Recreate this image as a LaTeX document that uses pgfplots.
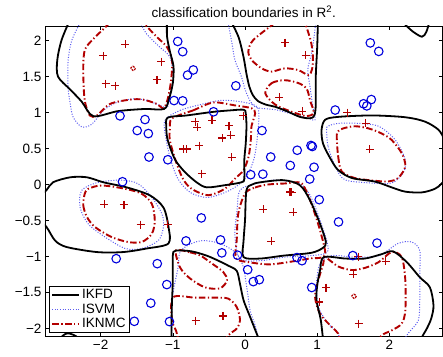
\documentclass[border=0pt]{standalone}
\usepackage{fontspec}
\setmainfont{Liberation Sans}
\usepackage{pgfplots}
\pgfplotsset{compat=1.18}
\definecolor{ikred}{RGB}{178,0,0}
\definecolor{ikblue}{RGB}{90,90,240}
\definecolor{obl}{RGB}{0,0,220}
\begin{document}
\begin{tikzpicture}
\begin{axis}[
  width=397.5pt, height=310.7pt, scale only axis,
  xmin=-2.77, xmax=2.735, ymin=-2.117, ymax=2.204,
  xtick={-2,-1,0,1,2}, xticklabels={−2,−1,0,1,2},
  ytick={-2,-1.5,-1,-0.5,0,0.5,1,1.5,2},
  yticklabels={−2,−1.5,−1,−0.5,0,0.5,1,1.5,2},
  tick label style={font=\fontsize{13.5}{16}\selectfont},
  tick align=inside, major tick length=4pt, tick style={black, line width=0.6pt},
  axis line style={line width=0.8pt},
  title={classification boundaries in R\textsuperscript{2}.},
  title style={font=\fontsize{13.5}{16}\selectfont, yshift=-1pt},
  legend style={at={(0.011,0.012)}, anchor=south west, font=\fontsize{13.5}{16}\selectfont,
    draw=black, line width=0.8pt, inner sep=1.5pt, row sep=-0.5pt, cells={anchor=west}},
  legend image code/.code={\draw[#1] (0pt,0pt) -- (27pt,0pt);},
]
\addlegendimage{black, line width=1.8pt}
\addlegendentry{IKFD}
\addlegendimage{ikblue, line width=1pt, dash pattern=on 1pt off 1.6pt}
\addlegendentry{ISVM}
\addlegendimage{ikred, line width=1.9pt, dash pattern=on 6.5pt off 2.5pt on 1.3pt off 2.5pt}
\addlegendentry{IKNMC}

\pgfplotsset{
  kfd/.style={black, line width=1.8pt, smooth, forget plot, no marks},
  svm/.style={ikblue, line width=1pt, dash pattern=on 1pt off 1.6pt, smooth, forget plot, no marks},
  nmc/.style={ikred, line width=1.9pt, dash pattern=on 6.5pt off 2.5pt on 1.3pt off 2.5pt, smooth, forget plot, no marks},
}

% ---------------- ISVM ----------------
\addplot[svm] coordinates {(-2.285,2.25) (-2.40,2.0) (-2.45,1.72) (-2.45,1.35) (-2.42,1.12) (-2.38,0.935) (-2.26,0.80) (-2.12,0.84) (-1.96,1.03) (-1.78,1.14) (-1.55,1.19) (-1.36,1.17) (-1.18,1.10) (-1.08,1.07) (-1.04,1.21) (-0.99,1.49) (-1.04,1.77) (-1.18,1.91) (-1.36,2.09) (-1.45,2.25)};
\addplot[svm] coordinates {(-0.235,2.25) (-0.18,1.96) (-0.14,1.73) (-0.05,1.50) (0.02,1.27) (0.14,1.08) (0.42,1.04) (0.69,0.97) (0.88,0.92) (0.97,0.90) (0.94,1.08) (0.90,1.36) (0.87,1.60) (0.93,1.86) (0.98,2.25)};
\addplot[svm, smooth cycle] coordinates {(-1.11,0.89) (-0.90,1.03) (-0.62,1.11) (-0.32,1.17) (0.0,1.14) (0.18,1.06) (0.18,0.75) (0.125,0.36) (0.0,0.08) (-0.21,-0.08) (-0.51,-0.18) (-0.76,-0.11) (-0.93,0.08) (-1.025,0.33) (-1.09,0.61)};
\addplot[svm, smooth cycle] coordinates {(1.13,0.76) (1.15,0.53) (1.25,0.25) (1.385,0.065) (1.755,0.02) (2.03,0.02) (2.19,0.16) (2.22,0.34) (2.08,0.62) (1.85,0.81) (1.57,0.85) (1.29,0.85) (1.15,0.81)};
\addplot[svm, smooth cycle] coordinates {(-2.26,-0.08) (-2.285,-0.315) (-2.17,-0.55) (-1.94,-0.73) (-1.66,-0.89) (-1.43,-0.89) (-1.20,-0.78) (-1.13,-0.59) (-1.15,-0.41) (-1.29,-0.18) (-1.48,0.01) (-1.71,0.06) (-2.03,0.03)};
\addplot[svm] coordinates {(-1.01,-2.25) (-1.01,-1.61) (-0.93,-1.17) (-0.90,-0.94) (-0.76,-0.83) (-0.58,-0.78) (-0.35,-0.82) (-0.14,-0.94) (-0.03,-1.125) (0.03,-1.47) (0.07,-1.75) (0.14,-1.96) (0.21,-2.25)};
\addplot[svm, smooth cycle] coordinates {(-0.07,-0.08) (0.14,0.01) (0.42,0.06) (0.76,0.01) (0.90,-0.15) (1.04,-0.5) (1.15,-0.92) (0.90,-0.99) (0.55,-1.01) (0.21,-1.06) (-0.07,-1.03) (-0.14,-0.71) (-0.11,-0.36)};
\addplot[svm] coordinates {(1.316,-2.25) (1.29,-2.07) (1.15,-1.935) (1.015,-1.70) (0.99,-1.38) (1.04,-1.10) (1.20,-0.99) (1.52,-1.01) (1.85,-0.99) (2.12,-0.82) (2.31,-0.80) (2.42,-0.92) (2.42,-1.24) (2.42,-1.61) (2.40,-1.89) (2.26,-2.07) (2.15,-2.25)};

% ---------------- IKNMC ----------------
\addplot[nmc] coordinates {(-1.87,2.25) (-2.17,1.95) (-2.23,1.815) (-2.24,1.54) (-2.22,1.17) (-2.15,0.96) (-2.05,0.96) (-1.87,1.12) (-1.59,1.18) (-1.41,1.18) (-1.22,1.12) (-1.13,1.06) (-1.07,1.19) (-1.025,1.44) (-1.01,1.72) (-1.08,1.91) (-1.22,2.05) (-1.41,2.25)};
\addplot[nmc] coordinates {(0.42,2.25) (0.115,2.01) (0.046,1.85) (0.093,1.73) (0.23,1.615) (0.37,1.57) (0.55,1.615) (0.74,1.59) (0.88,1.52) (0.93,1.61) (0.94,1.79) (0.91,2.0) (0.83,2.25)};
\addplot[nmc, smooth cycle] coordinates {(0.28,1.27) (0.37,1.41) (0.55,1.45) (0.74,1.41) (0.855,1.33) (0.90,1.17) (0.95,1.0) (0.855,0.95) (0.65,1.01) (0.42,1.11)};
\addplot[nmc, smooth cycle] coordinates {(-1.01,0.92) (-0.72,1.03) (-0.44,1.14) (-0.14,1.10) (0.09,1.06) (0.14,0.99) (0.09,0.81) (0.08,0.62) (0.05,0.39) (-0.02,0.20) (-0.14,0.08) (-0.28,-0.06) (-0.51,-0.15) (-0.74,-0.06) (-0.86,0.08) (-0.96,0.33) (-1.04,0.61) (-1.04,0.78)};
\addplot[nmc, smooth cycle] coordinates {(1.27,0.67) (1.29,0.39) (1.34,0.18) (1.52,0.09) (1.755,0.056) (1.985,0.042) (2.12,0.09) (2.22,0.25) (2.17,0.435) (2.03,0.62) (1.89,0.71) (1.71,0.78) (1.52,0.81) (1.36,0.78) (1.29,0.74)};
\addplot[nmc, smooth cycle] coordinates {(-2.22,-0.13) (-2.24,-0.29) (-2.19,-0.45) (-2.08,-0.59) (-1.85,-0.73) (-1.62,-0.80) (-1.43,-0.80) (-1.29,-0.685) (-1.25,-0.50) (-1.29,-0.27) (-1.43,-0.13) (-1.66,-0.06) (-1.985,-0.014) (-2.17,-0.06)};
\addplot[nmc, smooth cycle] coordinates {(-0.956,-0.917) (-0.762,-0.944) (-0.623,-0.986) (-0.461,-1.097) (-0.301,-1.218) (-0.249,-1.333) (-0.346,-1.444) (-0.554,-1.431) (-0.762,-1.306) (-0.90,-1.153)};
\addplot[nmc] coordinates {(-0.90,-2.25) (-0.956,-2.03) (-1.011,-1.889) (-0.997,-1.569) (-0.693,-1.574) (-0.416,-1.574) (-0.231,-1.588) (-0.115,-1.704) (-0.069,-1.889) (-0.115,-2.004) (-0.231,-2.097) (-0.32,-2.25)};
\addplot[nmc, smooth cycle] coordinates {(0.0,-0.125) (0.139,-0.042) (0.323,0.0) (0.554,0.014) (0.762,0.028) (0.845,-0.083) (0.928,-0.292) (1.039,-0.639) (1.108,-0.986) (0.90,-1.028) (0.665,-1.069) (0.346,-1.111) (0.069,-1.083) (-0.125,-1.028) (-0.115,-0.778) (-0.093,-0.403)};
\addplot[nmc] coordinates {(1.33,-2.25) (1.29,-2.074) (1.20,-1.98) (1.04,-1.80) (0.97,-1.565) (1.015,-1.333) (1.084,-1.10) (1.108,-1.01) (1.29,-1.14) (1.48,-1.19) (1.66,-1.16) (1.85,-1.08) (2.03,-0.94) (2.17,-1.01) (2.22,-1.33) (2.22,-1.75) (2.17,-1.935) (2.03,-2.03) (1.89,-2.10) (1.80,-2.25)};
\addplot[nmc, line width=1.2pt, dash pattern=on 2pt off 1pt, smooth cycle] coordinates {(-1.58,1.62) (-1.55,1.645) (-1.52,1.61) (-1.55,1.585)};
\addplot[nmc, line width=1.2pt, dash pattern=on 2pt off 1pt, smooth cycle] coordinates {(1.48,-1.55) (1.51,-1.525) (1.54,-1.556) (1.51,-1.585)};

% ---------------- IKFD ----------------
\addplot[kfd] coordinates {(-2.42,2.30) (-2.54,2.01) (-2.60,1.73) (-2.59,1.50) (-2.42,1.32) (-2.26,1.15) (-2.10,0.95) (-1.76,1.02) (-1.39,1.05) (-1.12,1.05) (-1.05,1.20) (-1.00,1.41) (-0.99,1.64) (-1.04,1.85) (-1.08,2.06) (-1.08,2.30)};
\addplot[kfd] coordinates {(-0.21,2.30) (-0.09,2.05) (-0.02,1.77) (0.02,1.54) (0.06,1.36) (0.11,1.24) (0.18,1.16) (0.29,1.11) (0.42,1.08) (0.60,1.01) (0.76,0.94) (0.90,0.92) (0.96,0.96) (0.98,1.11) (0.98,1.50) (1.00,1.92) (1.01,2.30)};
\addplot[kfd] coordinates {(2.19,2.25) (2.32,2.13) (2.45,2.055) (2.51,2.12) (2.55,2.25)};
\addplot[kfd, smooth cycle] coordinates {(-1.07,0.93) (-0.81,0.96) (-0.44,1.01) (-0.21,1.03) (-0.02,1.04) (0.01,0.99) (0.02,0.81) (0.01,0.57) (-0.01,0.34) (-0.01,0.08) (-0.05,0.03) (-0.28,-0.01) (-0.53,-0.04) (-0.67,0.03) (-0.83,0.17) (-0.96,0.33) (-1.04,0.52) (-1.08,0.66) (-1.09,0.80)};
\addplot[kfd] coordinates {(2.85,0.45) (2.77,0.61) (2.68,0.76) (2.49,0.875) (2.22,0.935) (1.76,0.96) (1.29,0.94) (1.11,0.90) (1.06,0.76) (1.08,0.57) (1.18,0.365) (1.29,0.20) (1.48,0.09) (1.80,0.04) (2.03,-0.04) (2.22,-0.10) (2.45,-0.11) (2.63,-0.06) (2.72,0.01) (2.85,0.15)};
\addplot[kfd] coordinates {(-2.90,-0.20) (-2.75,-0.08) (-2.66,0.03) (-2.42,0.10) (-2.19,0.10) (-1.96,0.03) (-1.64,-0.04) (-1.32,-0.15) (-1.13,-0.32) (-1.06,-0.59) (-1.06,-0.82) (-1.36,-0.89) (-1.69,-0.94) (-2.05,-0.94) (-2.47,-0.87) (-2.63,-0.78) (-2.75,-0.59) (-2.90,-0.43)};
\addplot[kfd] coordinates {(-1.02,-2.25) (-1.015,-1.75) (-1.00,-1.33) (-1.00,-0.99) (-0.96,-0.92) (-0.74,-0.93) (-0.53,-0.99) (-0.37,-1.06) (-0.23,-1.13) (-0.115,-1.20) (-0.07,-1.38) (-0.02,-1.61) (0.07,-1.84) (0.18,-2.12) (0.24,-2.25)};
\addplot[kfd, smooth cycle] coordinates {(0.02,-0.08) (0.10,0.0) (0.21,0.03) (0.53,0.06) (0.76,-0.01) (0.90,-0.22) (1.04,-0.55) (1.12,-0.80) (1.08,-0.88) (0.92,-0.95) (0.53,-0.99) (0.21,-1.03) (-0.02,-1.01) (-0.02,-0.78) (0.00,-0.50)};
\addplot[kfd] coordinates {(1.09,-2.25) (1.05,-1.89) (0.99,-1.61) (1.00,-1.40) (1.04,-1.19) (1.09,-1.01) (1.39,-1.03) (1.66,-1.03) (1.89,-0.97) (2.05,-0.93) (2.24,-1.08) (2.42,-1.29) (2.56,-1.43) (2.61,-1.68) (2.58,-1.86) (2.52,-2.00) (2.45,-2.125) (2.41,-2.25)};
\addplot[kfd] coordinates {(-2.61,-2.20) (-2.52,-2.10) (-2.45,-2.07) (-2.34,-2.11) (-2.25,-2.20)};

% ---------------- data points ----------------
\addplot[only marks, mark=+, mark size=4pt, color=ikred, mark options={draw=ikred, line width=1.1pt, solid}, forget plot] coordinates {
(-1.658,1.949) (-1.963,1.788) (-1.159,1.708) (-1.219,1.454) (-1.929,1.403) (-1.796,1.371)
(0.554,1.972) (0.838,1.799) (0.475,1.213) (0.792,1.018) (-0.025,0.956) (-0.457,0.893)
(-0.688,0.875) (-0.661,0.796) (-0.222,0.815) (-0.198,0.685) (-0.314,0.646) (-0.634,0.542)
(-0.852,0.493) (-0.810,0.493) (-0.183,0.378) (-0.598,0.150) (1.416,1.0) (1.669,0.854)
(1.729,0.489) (-1.949,-0.275) (-1.676,-0.282) (-1.445,-0.560) (-1.069,-0.553) (0.623,-0.104)
(0.644,-0.111) (0.253,-0.344) (0.669,-0.385) (0.364,-0.789) (-0.683,-1.893) (-0.305,-1.829)
(1.568,-1.004) (1.946,-1.069) (1.499,-1.246) (1.122,-1.433) (1.029,-1.635) (1.575,-1.935)};
\addplot[only marks, mark=o, mark size=4.3pt, color=obl, mark options={draw=obl, line width=1.1pt, solid}, forget plot] coordinates {
(-0.932,1.989) (-0.863,1.847) (-0.796,1.521) (-0.716,1.593) (-0.983,1.167) (-0.863,1.163)
(-1.731,0.954) (-1.385,0.903) (-1.493,0.750) (-1.339,0.708) (-1.330,0.382) (-1.069,0.344)
(-1.697,0.038) (-0.127,1.372) (-0.436,1.011) (0.235,0.75) (0.356,0.382) (0.723,0.476)
(0.914,0.542) (0.932,0.528) (0.627,0.264) (0.956,0.240) (0.079,0.136) (0.247,0.143)
(0.896,0.076) (1.735,1.969) (1.852,1.851) (1.641,1.122) (1.687,1.093) (1.749,1.181)
(1.249,1.035) (1.028,-0.211) (1.295,-0.521) (1.828,-0.815) (1.493,-0.989) (0.924,-1.433)
(-0.605,-0.465) (-0.817,-0.785) (-0.339,-0.771) (-0.321,-0.951) (-0.104,-0.983) (0.037,-1.185)
(0.115,-1.351) (0.198,-1.324) (0.720,-1.017) (0.789,-1.060) (-1.784,-1.032) (-1.215,-1.101)
(-1.083,-1.392) (-1.305,-1.650) (-1.533,-1.903) (-1.046,-1.907)};
\end{axis}
\path (current axis.south west) ++(-45pt,-19.3pt) rectangle ++(443pt,356pt);
\end{tikzpicture}
\end{document}
